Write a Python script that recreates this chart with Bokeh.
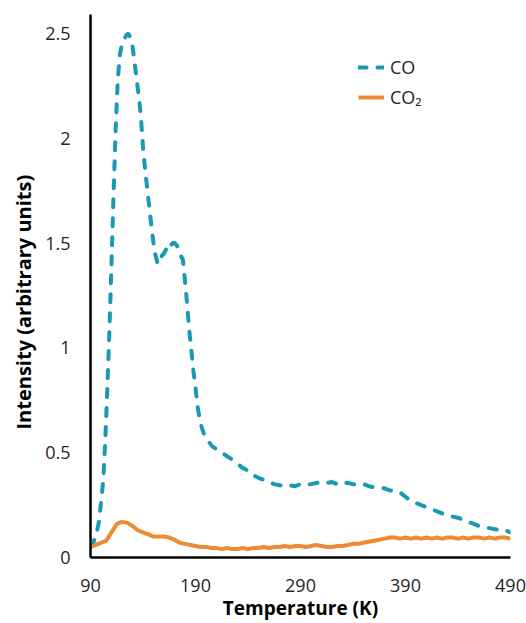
from bokeh.plotting import figure
from bokeh.models import FixedTicker, Legend, LegendItem, Range1d, Title
from bokeh.embed import file_html
from bokeh.resources import INLINE

# ---- data ----
co_temp = [90, 92, 94, 96, 98, 100, 102, 104, 106, 108, 110, 112, 114, 116, 118, 120,
           122, 124, 126, 128, 130, 132, 134, 136, 138, 140, 142, 144, 146, 148, 150,
           152, 154, 156, 158, 160, 162, 164, 166, 168, 170, 172, 174, 176, 178, 180,
           182, 184, 186, 188, 190, 192, 194, 196, 198, 200, 203, 206, 209, 212, 215,
           218, 221, 224, 227, 230, 234, 238, 242, 246, 250, 255, 260, 265, 270, 275,
           280, 285, 290, 295, 300, 305, 310, 315, 320, 325, 330, 335, 340, 345, 350,
           355, 360, 365, 370, 375, 380, 385, 390, 395, 400, 405, 410, 415, 420, 425,
           430, 435, 440, 445, 450, 455, 460, 465, 470, 475, 480, 485, 490]
co_int = [0.05, 0.06, 0.09, 0.12, 0.17, 0.26, 0.36, 0.55, 0.80, 1.08, 1.40, 1.74, 2.05,
          2.28, 2.40, 2.45, 2.47, 2.49, 2.50, 2.48, 2.44, 2.36, 2.28, 2.20, 2.10, 1.96,
          1.85, 1.76, 1.67, 1.58, 1.50, 1.44, 1.40, 1.41, 1.44, 1.45, 1.47, 1.46, 1.48,
          1.50, 1.50, 1.49, 1.47, 1.44, 1.42, 1.32, 1.21, 1.09, 0.99, 0.89, 0.81, 0.72,
          0.66, 0.62, 0.59, 0.57, 0.55, 0.53, 0.52, 0.51, 0.50, 0.49, 0.48, 0.47, 0.46,
          0.45, 0.43, 0.42, 0.40, 0.39, 0.38, 0.37, 0.36, 0.35, 0.345, 0.34, 0.345, 0.34,
          0.35, 0.345, 0.35, 0.355, 0.36, 0.355, 0.36, 0.35, 0.36, 0.355, 0.35, 0.345,
          0.35, 0.34, 0.335, 0.33, 0.33, 0.32, 0.32, 0.31, 0.29, 0.27, 0.26, 0.25, 0.24,
          0.23, 0.22, 0.21, 0.20, 0.195, 0.19, 0.18, 0.17, 0.16, 0.15, 0.145, 0.14, 0.135,
          0.13, 0.13, 0.12]

co2_temp = [90, 95, 100, 105, 110, 115, 120, 125, 130, 135, 140, 145, 150, 155, 160, 165,
            170, 175, 180, 185, 190, 195, 200, 205, 210, 215, 220, 225, 230, 235, 240, 245,
            250, 255, 260, 265, 270, 275, 280, 285, 290, 295, 300, 305, 310, 315, 320, 325,
            330, 335, 340, 345, 350, 355, 360, 365, 370, 375, 380, 385, 390, 395, 400, 405,
            410, 415, 420, 425, 430, 435, 440, 445, 450, 455, 460, 465, 470, 475, 480, 485,
            490]
co2_int = [0.05, 0.06, 0.07, 0.08, 0.12, 0.16, 0.17, 0.165, 0.15, 0.13, 0.12, 0.11, 0.10,
           0.10, 0.10, 0.095, 0.085, 0.07, 0.065, 0.06, 0.055, 0.05, 0.05, 0.045, 0.045,
           0.04, 0.045, 0.04, 0.04, 0.045, 0.04, 0.045, 0.045, 0.05, 0.045, 0.05, 0.05,
           0.055, 0.05, 0.055, 0.055, 0.05, 0.055, 0.06, 0.055, 0.05, 0.05, 0.055, 0.055,
           0.06, 0.065, 0.065, 0.07, 0.075, 0.08, 0.085, 0.09, 0.095, 0.095, 0.09, 0.095,
           0.09, 0.095, 0.09, 0.095, 0.09, 0.095, 0.09, 0.095, 0.095, 0.09, 0.095, 0.09,
           0.095, 0.095, 0.09, 0.095, 0.09, 0.095, 0.095, 0.09]

x_ticks = [90, 190, 290, 390, 490]
y_ticks = [0, 0.5, 1, 1.5, 2, 2.5]
y_tick_labels = ["0", "0.5", "1", "1.5", "2", "2.5"]

CO_COLOR = "#1899B4"
CO2_COLOR = "#EE8A35"
FONT = "Open Sans"
TEXT = "#262626"

p = figure(width=526, height=623, output_backend="svg", toolbar_location=None,
           x_range=Range1d(90, 490), y_range=Range1d(0, 2.59),
           min_border_left=90, min_border_right=16, min_border_top=14, min_border_bottom=65)

co = p.line(co_temp, co_int, line_color=CO_COLOR, line_width=4, line_dash="8 11",
            line_cap="round")
co2 = p.line(co2_temp, co2_int, line_color=CO2_COLOR, line_width=4)

p.outline_line_color = None
p.xgrid.visible = False
p.ygrid.visible = False

for ax in (p.xaxis[0], p.yaxis[0]):
    ax.axis_line_color = "black"
    ax.axis_line_width = 2.5
    ax.major_tick_line_color = None
    ax.minor_tick_line_color = None
    ax.major_tick_out = 0
    ax.major_tick_in = 0
    ax.major_label_text_font = FONT
    ax.major_label_text_font_size = "18px"
    ax.major_label_text_color = TEXT

p.xaxis.ticker = FixedTicker(ticks=x_ticks)
p.yaxis.ticker = FixedTicker(ticks=y_ticks)
p.yaxis.major_label_overrides = {t: l for t, l in zip(y_ticks, y_tick_labels)}
p.xaxis.major_label_standoff = 21
p.yaxis.major_label_standoff = 20

p.xaxis.axis_label = "Temperature (K)"
p.xaxis.axis_label_standoff = 0
p.xaxis.axis_label_text_font = FONT
p.xaxis.axis_label_text_font_style = "bold"
p.xaxis.axis_label_text_font_size = "19px"
p.xaxis.axis_label_text_color = "black"

ytitle = Title(text="Intensity (arbitrary units)", align="left", offset=128,
               text_font=FONT, text_font_style="bold", text_font_size="20px",
               text_color="black", standoff=12)
p.add_layout(ytitle, "left")

legend = Legend(items=[LegendItem(label="CO", renderers=[co]),
                       LegendItem(label="CO₂", renderers=[co2])],
                location=(268, 448), padding=0, margin=0, spacing=6,
                glyph_width=26, glyph_height=20, label_standoff=6,
                label_text_font=FONT, label_text_font_size="18px",
                label_text_color=TEXT, border_line_color=None,
                background_fill_alpha=0)
p.add_layout(legend)

open("out.html", "w").write(file_html(p, INLINE))
